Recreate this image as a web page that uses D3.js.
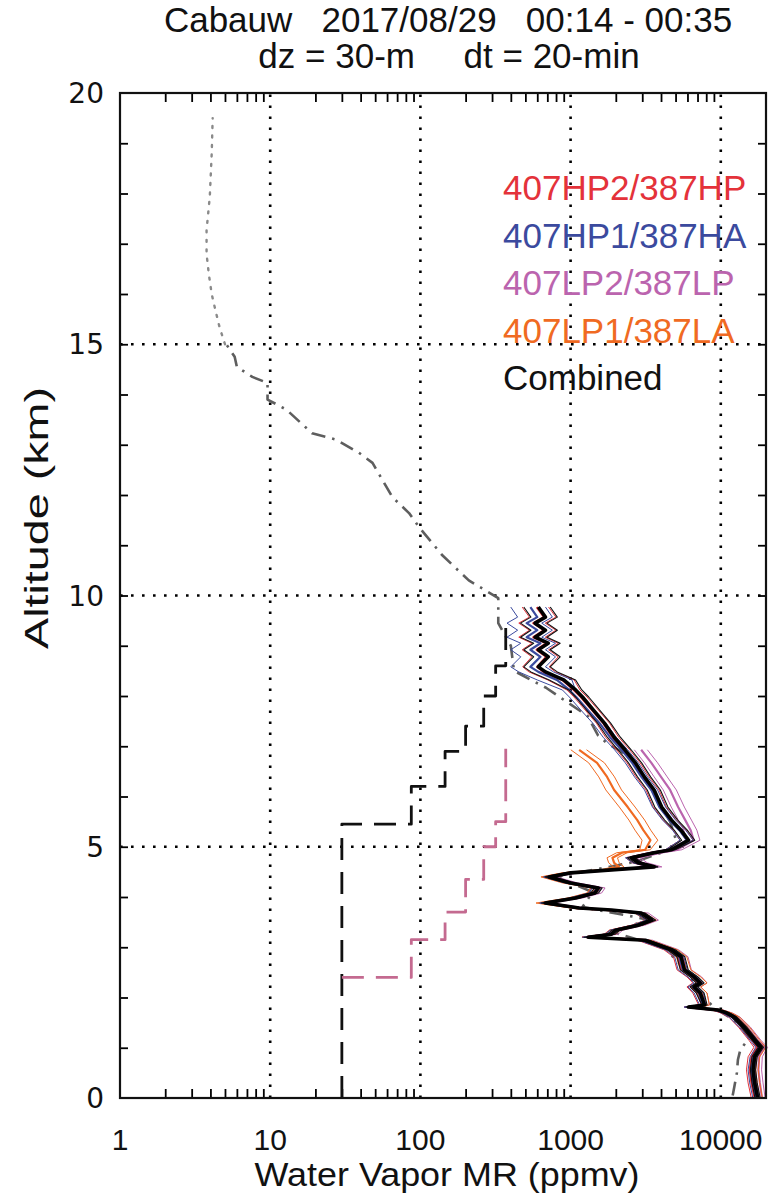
<!DOCTYPE html>
<html>
<head>
<meta charset="utf-8">
<script src="https://cdn.jsdelivr.net/npm/d3@7"></script>
<style>
body { margin: 0; background: #fff; }
text { font-family: "Liberation Sans", Arial, sans-serif; fill: #111; }
</style>
</head>
<body>
<svg width="773" height="1193"></svg>
<script>
"use strict";

// altitude nodes (km) shared by the lidar profiles
const alts = [0.0, 0.3, 0.56, 0.82, 1.01, 1.15, 1.41, 1.61, 1.69, 1.75, 1.81, 1.85, 2.09, 2.21, 2.29, 2.41, 2.55, 2.81, 2.95, 3.14,
  3.2, 3.26, 3.34, 3.44, 3.54, 3.68, 3.74, 3.78, 3.88, 3.98, 4.08, 4.18, 4.28, 4.4, 4.48, 4.54, 4.6, 4.68, 4.78, 4.88,
  4.94, 5.13, 5.33, 5.53, 5.79, 6.13, 6.39, 6.67, 6.93, 7.18, 7.46, 7.72, 7.98, 8.12, 8.32, 8.48, 8.58, 8.78, 8.92, 9.05,
  9.17, 9.31, 9.45, 9.57, 9.77];

const combined = [17600, 16800, 16400, 16800, 18500, 16800, 14300, 12300, 11000, 9580, 6100, 7800, 7300, 6640, 7300, 6640, 5730, 5440, 4700, 3140,
  1310, 1870, 2000, 2830, 3470, 2950, 1870, 1140, 680, 1080, 1450, 1530, 1000, 720, 1000, 1870, 3600, 2830, 2540, 3600,
  4700, 6100, 5440, 4700, 4040, 3600, 3100, 2700, 2300, 1950, 1680, 1420, 1200, 1080, 900, 680, 610, 710, 610, 710,
  580, 680, 580, 680, 610];

const hp2 = [16800, 16000, 15600, 16000, 17500, 16200, 13800, 11900, 10600, 9200, 6000, 7500, 7000, 6400, 7000, 6400, 5500, 5200, 4500, 3000,
  1280, 1800, 1950, 2750, 3400, 2900, 1820, 1100, 670, 1050, 1400, 1500, 980, 700, 980, 1820, 3500, 2780, 2500, 3500,
  4600, 5950, 5350, 4600, 3950, 3530, 3030, 2640, 2250, 1900, 1650, 1390, 1170, 1050, 880, 660, 600, 690, 595, 690,
  565, 665, 565, 665, 595];

const hp1 = [17200, 16400, 16000, 16500, 18000, 16500, 14000, 12000, 10800, 9400, 6000, 7600, 7150, 6500, 7150, 6500, 5600, 5300, 4600, 3050,
  1290, 1830, 1970, 2780, 3420, 2900, 1840, 1120, 670, 1060, 1420, 1500, 980, 710, 990, 1840, 3550, 2790, 2500, 3550,
  4600, 5950, 5300, 4550, 3900, 3450, 2960, 2570, 2180, 1830, 1560, 1300, 1090, 980, 810, 610, 540, 630, 540, 630,
  510, 600, 510, 600, 540];

const lp2 = [18800, 18200, 17800, 18000, 19500, 17600, 15000, 12800, 11400, 9900, 6300, 8000, 7500, 6800, 7500, 6900, 5900, 5600, 4850, 3250,
  1350, 1920, 2060, 2900, 3560, 3050, 1930, 1180, 700, 1110, 1490, 1570, 1030, 740, 1030, 1950, 3750, 3000, 2700, 3850,
  5100, 6600, 6300, 5800, 5200, 4600, 4000, 3450, 2950, null, null, null, null, null, null, null, null, null, null, null,
  null, null, null, null, null];

const lp1 = [18000, 17300, 16900, 17300, 19000, 17300, 14800, 12700, 11300, 9800, 6300, 8000, 7500, 6800, 7500, 6800, 5850, 5500, 4750, 3150,
  1300, 1850, 1980, 2800, 3450, 2900, 1830, 1100, 640, 1040, 1400, 1480, 960, 690, 950, 1700, 2100, 1950, 1900, 2200,
  3140, 3400, 3050, 2780, 2400, 1950, 1750, 1500, 1140, null, null, null, null, null, null, null, null, null, null, null,
  null, null, null, null, null];

// relative uncertainty of each retrieval by altitude band (thin envelope lines)
const errBounds = [0, 2, 5, 8.3, 10];
const errCombined = [0.04, 0.06, 0.1, 0.2];
const errHp2 = [0.05, 0.07, 0.1, 0.2];
const errHp1 = [0.05, 0.07, 0.1, 0.26];
const errLp2 = [0.05, 0.08, 0.1, 0.1];
const errLp1 = [0.05, 0.08, 0.12, 0.12];

// radiosonde-like reference profile (dash-dot) and upper part (dotted)
const sondeAlt = [0.05, 0.22, 0.5, 0.76, 0.96, 1.2, 1.5, 1.8, 2.09, 2.5, 3.0, 3.3, 3.55, 3.8, 4.1, 4.4, 4.7, 5.0, 5.5, 6.0,
  6.5, 6.79, 7.06, 7.22, 7.6, 8.16, 8.5, 9.0, 9.45, 9.95, 10.3, 10.8, 11.36, 11.64, 11.96, 12.64, 12.84, 13.1, 13.23, 13.7,
  13.9, 14.23, 14.35, 14.55, 14.75, 15.0];
const sondeVal = [12000, 12300, 12800, 13000, 13500, 15500, 13000, 9000, 7300, 6000, 4200, 1900, 3300, 1200, 1400, 800, 2700, 5200, 4600, 3700,
  2900, 2500, 1750, 1520, 1300, 690, 420, 400, 330, 330, 210, 140, 98, 84, 65, 48, 39, 27.5, 19, 12.8,
  9.6, 9.6, 7.6, 6.0, 5.8, 5.1];
const upperAlt = [15.0, 15.34, 15.74, 16.0, 16.4, 16.8, 17.27, 17.93, 18.8, 19.5];
const upperVal = [5.0, 4.6, 4.27, 4.08, 3.9, 3.77, 3.77, 3.96, 4.08, 4.14];

// detection limits (step functions): layer bounds (km) and values (ppmv)
const hpLimBounds = [0, 5.45, 6.2, 6.9, 7.4, 8.0, 8.6, 9.5];
const hpLimVals = [30, 87, 146, 200, 264, 317, 370];
const lpLimBounds = [2.4, 2.4, 3.15, 3.7, 4.35, 5.0, 5.5, 6.95];
const lpLimVals = [30, 87, 146, 200, 264, 317, 370];

const xTicks = [1, 10, 100, 1000, 10000];
const yTicks = [0, 5, 10, 15, 20];
const legendNames = ["407HP2/387HP", "407HP1/387HA", "407LP2/387LP", "407LP1/387LA", "Combined"];
const legendColors = ["#e4323a", "#3b4a9e", "#bb64ae", "#f06a22", "#111111"];

const svg = d3.select("svg");
const x = d3.scaleLog().domain([1, 20000]).range([120, 766]);
const y = d3.scaleLinear().domain([0, 20]).range([1098, 93]);

// grid
const grid = svg.append("g").attr("stroke", "#000").attr("stroke-width", 2.6).attr("stroke-dasharray", "2.6 8.4");
grid.selectAll(".gx").data(xTicks.slice(1)).join("line")
  .attr("x1", d => x(d)).attr("x2", d => x(d)).attr("y1", y(0)).attr("y2", y(20));
grid.selectAll(".gy").data(yTicks.slice(1, -1)).join("line")
  .attr("y1", d => y(d)).attr("y2", d => y(d)).attr("x1", x(1)).attr("x2", x(20000));

// ticks (inward)
const minorX = [];
xTicks.forEach(d => { for (let k = 2; k <= 9; k++) if (d * k < 20000) minorX.push(d * k); });
const tickStyle = g => {
  g.select(".domain").remove();
  g.selectAll("line").attr("stroke-width", 1.8);
};
svg.append("g").attr("transform", `translate(0,${y(0)})`)
  .call(d3.axisBottom(x).tickValues(minorX).tickSize(-9).tickFormat("")).call(tickStyle);
svg.append("g").attr("transform", `translate(0,${y(20)})`)
  .call(d3.axisTop(x).tickValues(minorX).tickSize(-9).tickFormat("")).call(tickStyle);
svg.append("g").attr("transform", `translate(${x(1)},0)`)
  .call(d3.axisLeft(y).tickValues(d3.range(1, 20)).tickSize(-8).tickFormat("")).call(tickStyle);
svg.append("g").attr("transform", `translate(${x(20000)},0)`)
  .call(d3.axisRight(y).tickValues(d3.range(1, 20)).tickSize(-8).tickFormat("")).call(tickStyle);

// lines
const line = d3.line().defined(d => d.v != null).x(d => x(d.v)).y(d => y(d.a));
const band = a => Math.min(errBounds.length - 2, Math.max(0, d3.bisectRight(errBounds, a) - 1));
const prof = (vals, err, sign) => alts.map((a, i) => ({
  a, v: vals[i] == null ? null : vals[i] * (1 + sign * (err ? err[band(a)] : 0))
}));
const stepPts = (bounds, vals) => {
  const p = [];
  vals.forEach((v, i) => { p.push({ a: bounds[i], v }); p.push({ a: bounds[i + 1], v }); });
  return p;
};

const plot = svg.append("g").attr("fill", "none").attr("stroke-linejoin", "round");

plot.append("path").attr("d", line(upperAlt.map((a, i) => ({ a, v: upperVal[i] }))))
  .attr("stroke", "#8a8a8a").attr("stroke-width", 2.4).attr("stroke-dasharray", "2 7.5").attr("stroke-linecap", "round");
plot.append("path").attr("d", line(sondeAlt.map((a, i) => ({ a, v: sondeVal[i] }))))
  .attr("stroke", "#5e5e5e").attr("stroke-width", 2.6).attr("stroke-dasharray", "14 7 2.5 7");

const series = [
  { vals: lp2, err: errLp2, color: legendColors[2] },
  { vals: hp2, err: errHp2, color: legendColors[0] },
  { vals: lp1, err: errLp1, color: legendColors[3] },
  { vals: hp1, err: errHp1, color: legendColors[1] }
];
series.forEach(s => {
  [-1, 1].forEach(sg => {
    plot.append("path").attr("d", line(prof(s.vals, s.err, sg))).attr("stroke", s.color).attr("stroke-width", 1);
  });
  plot.append("path").attr("d", line(prof(s.vals, null, 0))).attr("stroke", s.color).attr("stroke-width", 2.2);
});

plot.append("path").attr("d", line(stepPts(hpLimBounds, hpLimVals)))
  .attr("stroke", "#111").attr("stroke-width", 2.8).attr("stroke-dasharray", "22 12");
plot.append("path").attr("d", line(stepPts(lpLimBounds, lpLimVals)))
  .attr("stroke", "#c46a90").attr("stroke-width", 2.8).attr("stroke-dasharray", "22 12");

[-1, 1].forEach(sg => {
  plot.append("path").attr("d", line(prof(combined, errCombined, sg))).attr("stroke", "#111").attr("stroke-width", 1.1);
});
plot.append("path").attr("d", line(prof(combined, null, 0))).attr("stroke", "#000").attr("stroke-width", 3.6);

// frame
svg.append("rect").attr("x", x(1)).attr("y", y(20)).attr("width", x(20000) - x(1)).attr("height", y(0) - y(20))
  .attr("fill", "none").attr("stroke", "#111").attr("stroke-width", 2.2);

// tick labels
svg.append("g").selectAll("text").data(xTicks).join("text")
  .attr("x", d => x(d)).attr("y", 1150).attr("text-anchor", "middle").attr("font-size", 30)
  .text(d => d);
svg.append("g").selectAll("text").data(yTicks).join("text")
  .attr("x", 104).attr("y", d => y(d) + 10).attr("text-anchor", "end").attr("font-size", 28)
  .style("font-family", "'DejaVu Sans', sans-serif")
  .text(d => d);

// axis titles
svg.append("text").attr("x", 447).attr("y", 1186).attr("text-anchor", "middle").attr("font-size", 33)
  .attr("textLength", 385).attr("lengthAdjust", "spacingAndGlyphs")
  .text("Water Vapor MR (ppmv)");
svg.append("text").attr("transform", "translate(48,518) rotate(-90)").attr("text-anchor", "middle").attr("font-size", 33)
  .attr("textLength", 262).attr("lengthAdjust", "spacingAndGlyphs")
  .text("Altitude (km)");

// title
svg.append("text").attr("x", 448).attr("y", 32).attr("text-anchor", "middle").attr("font-size", 35)
  .style("white-space", "pre").text("Cabauw   2017/08/29   00:14 - 00:35");
svg.append("text").attr("x", 449).attr("y", 68).attr("text-anchor", "middle").attr("font-size", 35)
  .style("white-space", "pre").text("dz = 30-m     dt = 20-min");

// legend
svg.append("g").selectAll("text").data(legendNames).join("text")
  .attr("x", 503).attr("y", (d, i) => 200 + i * 47.5).attr("font-size", 35)
  .style("fill", (d, i) => legendColors[i])
  .text(d => d);
</script>
</body>
</html>
